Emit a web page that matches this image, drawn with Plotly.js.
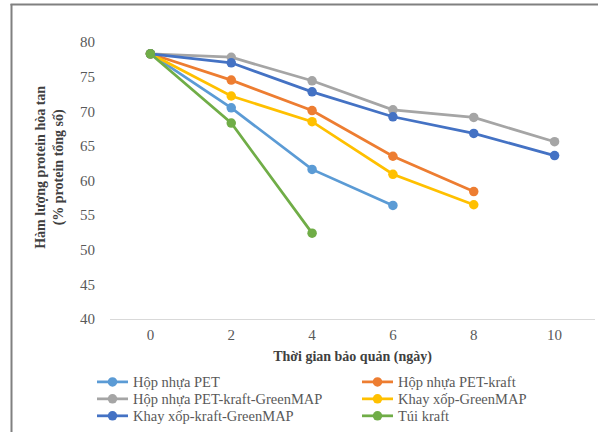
<!DOCTYPE html>
<html>
<head>
<meta charset="utf-8">
<script src="https://cdn.plot.ly/plotly-3.0.1.min.js"></script>
<style>html,body{margin:0;padding:0;background:#fff;}#chart{width:598px;height:432px;}</style>
</head>
<body>
<div id="chart"></div>
<script>
const days = [0, 2, 4, 6, 8, 10];
const seriesNames = ['Hộp nhựa PET', 'Hộp nhựa PET-kraft', 'Hộp nhựa PET-kraft-GreenMAP', 'Khay xốp-GreenMAP', 'Khay xốp-kraft-GreenMAP', 'Túi kraft'];
const hopNhuaPET = [78.3, 70.5, 61.6, 56.4];
const hopNhuaPETKraft = [78.3, 74.5, 70.1, 63.5, 58.4];
const hopNhuaPETKraftGreenMAP = [78.3, 77.8, 74.4, 70.2, 69.1, 65.6];
const khayXopGreenMAP = [78.3, 72.2, 68.5, 60.9, 56.5];
const khayXopKraftGreenMAP = [78.3, 77.0, 72.8, 69.2, 66.8, 63.6];
const tuiKraft = [78.3, 68.3, 52.4];
const yTicks = [40, 45, 50, 55, 60, 65, 70, 75, 80];

const colors = ['#5B9BD5', '#ED7D31', '#A5A5A5', '#FFC000', '#4472C4', '#70AD47'];
const allSeries = [hopNhuaPET, hopNhuaPETKraft, hopNhuaPETKraftGreenMAP, khayXopGreenMAP, khayXopKraftGreenMAP, tuiKraft];

const traces = allSeries.map((vals, i) => ({
  type: 'scatter',
  mode: 'lines+markers',
  name: seriesNames[i],
  showlegend: false,
  x: days.slice(0, vals.length),
  y: vals,
  line: {color: colors[i], width: 2.75},
  marker: {color: colors[i], size: 9.5}
}));

const L = 110, R = 595, T = 42, B = 319.5, W = 598, H = 432;
const pw = R - L, ph = B - T;
const px = v => (v - L) / pw;
const py = v => (B - v) / ph;
const FONT = 'Liberation Serif';

// legend (two columns, row-major order) drawn as shapes + annotations
const legendCols = [97, 362];
const legendRows = [382.5, 399.5, 416.5];
const legendShapes = [];
const legendAnns = [];
seriesNames.forEach((name, i) => {
  const x0 = legendCols[i % 2];
  const yy = legendRows[Math.floor(i / 2)];
  legendShapes.push({type: 'line', xref: 'paper', yref: 'paper', x0: px(x0), x1: px(x0 + 31), y0: py(yy), y1: py(yy), line: {color: colors[i], width: 2.75}});
  legendShapes.push({type: 'circle', xref: 'paper', yref: 'paper', x0: px(x0 + 15.5 - 4.75), x1: px(x0 + 15.5 + 4.75), y0: py(yy - 4.75), y1: py(yy + 4.75), fillcolor: colors[i], line: {width: 0}});
  legendAnns.push({xref: 'paper', yref: 'paper', x: px(x0 + 34), y: py(yy), xanchor: 'left', yanchor: 'middle', showarrow: false, text: name, font: {family: FONT, size: 14.5, color: '#595959'}});
});

const layout = {
  width: W, height: H,
  margin: {l: L, r: W - R, t: T, b: H - B, pad: 0, autoexpand: false},
  paper_bgcolor: '#ffffff',
  plot_bgcolor: '#ffffff',
  font: {family: FONT, size: 14, color: '#595959'},
  showlegend: false,
  xaxis: {
    range: [-1, 11],
    tickvals: days,
    ticktext: days.map(String),
    showgrid: false,
    zeroline: false,
    showline: true,
    linecolor: '#D9D9D9',
    linewidth: 1,
    ticks: '',
    ticklabelstandoff: 2,
    tickfont: {family: FONT, size: 15, color: '#595959'},
    title: {text: '<b>Thời gian bảo quản (ngày)</b>', font: {family: FONT, size: 14, color: '#404040'}, standoff: 9}
  },
  yaxis: {
    range: [40, 80],
    tickvals: yTicks,
    ticktext: yTicks.map(String),
    showgrid: false,
    zeroline: false,
    showline: false,
    ticks: '',
    ticklabelstandoff: 14,
    tickfont: {family: FONT, size: 15, color: '#595959'}
  },
  annotations: [{
    xref: 'paper', yref: 'paper',
    x: px(50), y: py(168),
    xanchor: 'center', yanchor: 'middle',
    textangle: -90,
    showarrow: false,
    text: '<b>Hàm lượng protein hòa tan</b><br><b>(% protein tổng số)</b>',
    font: {family: FONT, size: 14, color: '#404040'}
  }].concat(legendAnns),
  shapes: [
    {type: 'line', xref: 'paper', yref: 'paper', x0: px(11.5), x1: px(11.5), y0: py(4), y1: py(440), line: {color: '#808080', width: 2}},
    {type: 'line', xref: 'paper', yref: 'paper', x0: px(10.5), x1: px(600), y0: py(4.5), y1: py(4.5), line: {color: '#808080', width: 2}}
  ].concat(legendShapes)
};

Plotly.newPlot('chart', traces, layout, {displayModeBar: false, staticPlot: true});
</script>
</body>
</html>
